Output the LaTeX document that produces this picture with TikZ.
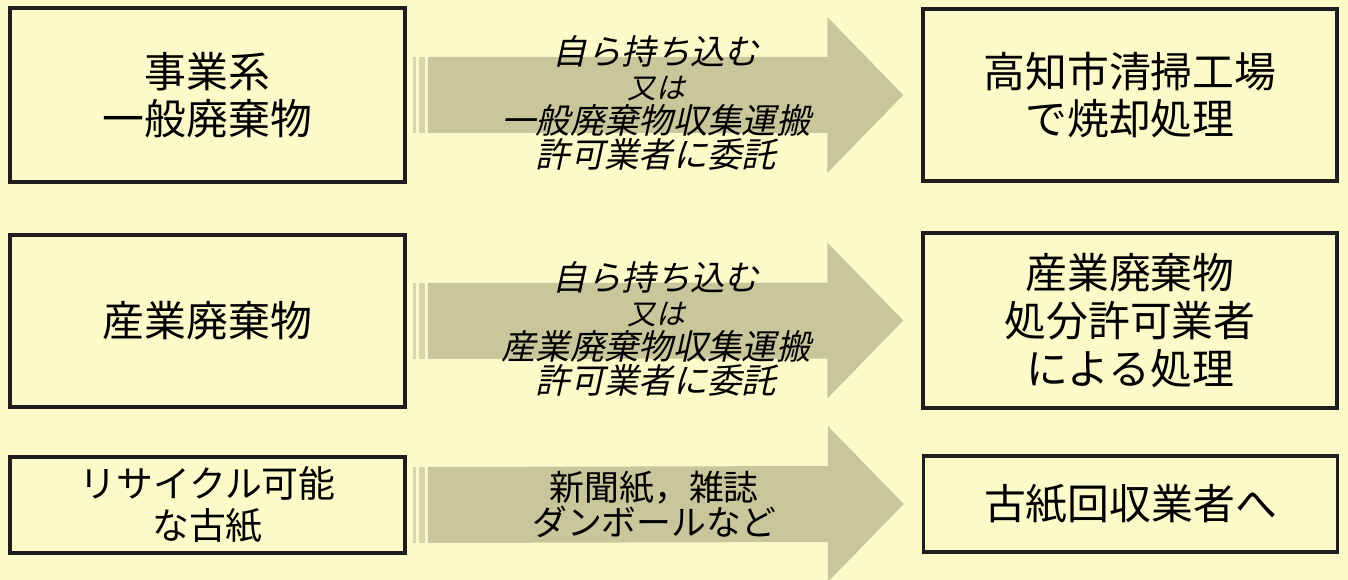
\documentclass[tikz,border=0pt]{standalone}
\usepackage{fontspec}
\usepackage{xcolor}
\newfontfamily\jpfont{Noto Sans CJK JP}
\newfontfamily\jpslant{Noto Sans CJK JP}[FakeSlant=0.22]
\usetikzlibrary{positioning,calc}

\definecolor{paper}{RGB}{253,250,202}
\definecolor{arrowfill}{RGB}{202,198,155}
\definecolor{stripefill}{RGB}{216,212,172}
\definecolor{edge}{RGB}{30,30,30}

\begin{document}
\begin{tikzpicture}[x=1bp,y=-1bp,
    box/.style={rectangle, draw=edge, line width=3.5bp, fill=paper, inner sep=0pt, align=center, font=\jpfont\fontsize{42}{47}\selectfont},
    via/.style={align=center, text=black, font=\jpslant\fontsize{34.5}{34.5}\selectfont},
    plainvia/.style={align=center, text=black, font=\jpfont\fontsize{35}{36}\selectfont}]
        % page
        \fill[paper] (0,0) rectangle (1348,580);
        \useasboundingbox (0,0) rectangle (1348,580);

        % Left boxes (waste kinds)
        \node[box, minimum width=395bp, minimum height=174bp] (l1) at (207.5, 95) {事業系\\一般廃棄物};
        \node[box, minimum width=395bp, minimum height=172bp] (l2) at (207.5, 321) {産業廃棄物};
        \node[box, minimum width=395bp, minimum height=96bp, font=\jpfont\fontsize{37}{42}\selectfont] (l3) at (207.5, 505) {リサイクル可能\\な古紙};

        % Right boxes (where it goes)
        \node[box, minimum width=414bp, minimum height=172bp] (r1) at (1130, 95) {高知市清掃工場\\で焼却処理};
        \node[box, minimum width=414bp, minimum height=175bp, font=\jpfont\fontsize{42}{48}\selectfont] (r2) at (1130, 320.5) {産業廃棄物\\処分許可業者\\による処理};
        \node[box, minimum width=414bp, minimum height=96bp] (r3) at (1130.5, 504) {古紙回収業者へ};

        % Wide arrows between the boxes
        \foreach \src/\dst in {l1/r1, l2/r2, l3/r3} {
          \fill[stripefill] ($(\src.east)+(6,-38)$) rectangle ($(\src.east)+(9,38)$);
          \fill[stripefill] ($(\src.east)+(12,-38)$) rectangle ($(\src.east)+(18,38)$);
          \fill[arrowfill] ($(\src.east)+(21,-38)$) -- ($(\dst.west)+(-94,-38)$) -- ($(\dst.west)+(-94,-78)$)
            -- ($(\dst.west)+(-18,0)$) -- ($(\dst.west)+(-94,78)$) -- ($(\dst.west)+(-94,38)$)
            -- ($(\src.east)+(21,38)$) -- cycle;
        }

        % Texts on the arrows
        \node[via] (v1) at ($(l1.east)!0.5!(r1.west)+(-8,8)$) {自ら持ち込む\\{\fontsize{29}{34.5}\selectfont 又は}\\一般廃棄物収集運搬\\許可業者に委託};
        \node[via] (v2) at ($(l2.east)!0.5!(r2.west)+(-8,8)$) {自ら持ち込む\\{\fontsize{29}{34.5}\selectfont 又は}\\産業廃棄物収集運搬\\許可業者に委託};
        \node[plainvia] (v3) at ($(l3.east)!0.5!(r3.west)+(-10,0)$) {新聞紙，雑誌\\ダンボールなど};
    \end{tikzpicture}
\end{document}
